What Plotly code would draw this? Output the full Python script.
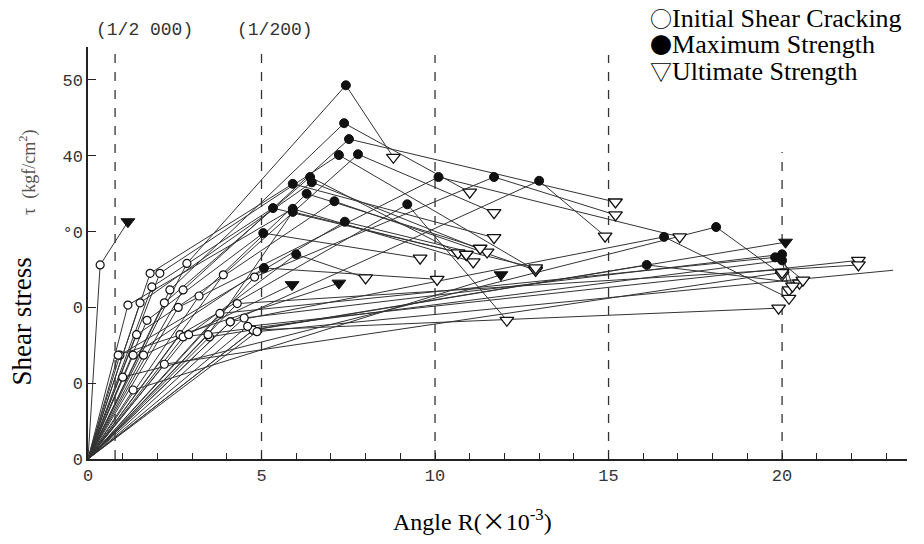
import plotly.graph_objects as go

# ---- data, x in 10^-3 rad, y in kgf/cm2 ----
crack_x = [2.85, 2.36, 2.74, 2.07, 3.9, 1.79, 2.2, 1.5, 1.84, 1.15, 1.7, 2.6, 4.8, 4.1,
           1.4, 2.65, 0.92, 1.3, 1.6, 0.87, 1.3, 0.35, 4.76, 3.5, 2.74, 1.0, 4.1, 2.9,
           4.76, 4.6, 4.87, 3.46, 4.5, 3.8, 4.3, 2.2, 3.2]
crack_y = [25.8, 22.3, 22.3, 24.5, 24.3, 24.5, 20.6, 20.6, 22.7, 20.3, 18.3, 20.0, 24.0, 18.1,
           16.4, 16.4, 13.7, 13.7, 13.7, 13.7, 9.1, 25.6, 17.0, 16.1, 16.1, 10.8, 18.1, 16.4,
           17.0, 17.5, 16.8, 16.4, 18.6, 19.2, 20.5, 12.5, 21.5]
peak_x = [7.43, 7.38, 7.52, 7.23, 7.78, 5.9, 6.4, 6.45, 5.33, 5.9, 5.05, 10.1, 11.7, 13.0,
          7.1, 9.2, 7.4, 5.07, 5.88, 7.23, 11.9, 1.15, 20.1, 16.1, 20.0, 18.1, 16.6, 6.0,
          None, None, None, 5.9, 20.0, 19.8, None, None, 6.3]
peak_y = [49.3, 44.3, 42.2, 40.1, 40.2, 36.3, 37.2, 36.5, 33.1, 33.0, 29.8, 37.2, 37.2, 36.7,
          34.0, 33.6, 31.3, 25.2, 23.0, 23.2, 24.3, 31.3, 28.6, 25.6, 26.2, 30.6, 29.3, 27.0,
          None, None, None, 32.6, 27.0, 26.6, None, None, 35.0]
ult_x = [8.8, 11.0, 15.2, 12.9, 11.7, 11.7, 10.66, 11.5, 10.9, 11.1, 9.57, 17.05, 15.2, 14.9,
         12.9, 12.07, 12.9, 10.06, None, None, None, None, None, 20.5, 20.2, 20.0, 20.2, 8.0,
         19.9, 22.2, 23.2, 10.9, 20.3, 20.6, 22.2, 20.0, 11.3]
ult_y = [39.8, 35.2, 33.9, 24.9, 32.5, 29.2, 27.2, 27.3, 27.0, 26.0, 26.5, 29.3, 32.2, 29.4,
         24.9, 18.3, 25.2, 23.7, None, None, None, None, None, 23.2, 22.3, 24.3, 21.2, 23.9,
         19.9, 26.2, 24.9, 27.0, 22.8, 23.6, 25.6, 24.6, 27.8]
ult_marked = [True] * 30 + [False] + [True] * 6

x_tick_vals = [0, 5, 10, 15, 20]
x_tick_text = ["0", "5", "10", "15", "20"]
y_tick_vals = [0, 10, 20, 30, 40, 50]
y_tick_text = ["0", "0", "0", "°0", "40", "50"]

guide_x = [0.78, 5, 10, 15, 20]
guide_top = [54.4, 54.6, 53.3, 53.3, 40.5]
drift_labels = ["(1/2 000)", "(1/200)"]
drift_label_x = [1.64, 5.4]
legend_symbols = ["○", "●", "▽"]
legend_labels = ["Initial Shear Cracking", "Maximum Strength", "Ultimate Strength"]

INK = "#111111"
LINE = "#333333"
SERIF = "Liberation Serif"
OLD = "Liberation Mono"

fig = go.Figure()

# specimen paths
for i in range(len(crack_x)):
    xs = [0, crack_x[i]]
    ys = [0, crack_y[i]]
    if peak_x[i] is not None:
        xs.append(peak_x[i]); ys.append(peak_y[i])
    if ult_x[i] is not None:
        xs.append(ult_x[i]); ys.append(ult_y[i])
    fig.add_trace(go.Scatter(x=xs, y=ys, mode="lines",
                             line=dict(color=LINE, width=1), hoverinfo="skip",
                             showlegend=False))

# ultimate (open down-triangles)
idx_u = [i for i in range(len(ult_x)) if ult_x[i] is not None and ult_marked[i]]
fig.add_trace(go.Scatter(x=[ult_x[i] for i in idx_u], y=[ult_y[i] for i in idx_u],
                         mode="markers", showlegend=False,
                         marker=dict(symbol="triangle-down", size=12, color="white",
                                     line=dict(color=INK, width=1.3))))
# maximum (filled circles); max = ultimate (filled down-triangles)
idx_c = [i for i in range(len(peak_x)) if peak_x[i] is not None and ult_x[i] is not None]
idx_t = [i for i in range(len(peak_x)) if peak_x[i] is not None and ult_x[i] is None]
fig.add_trace(go.Scatter(x=[peak_x[i] for i in idx_c], y=[peak_y[i] for i in idx_c],
                         mode="markers", showlegend=False,
                         marker=dict(symbol="circle", size=9, color=INK,
                                     line=dict(color=INK, width=1))))
fig.add_trace(go.Scatter(x=[peak_x[i] for i in idx_t], y=[peak_y[i] for i in idx_t],
                         mode="markers", showlegend=False,
                         marker=dict(symbol="triangle-down", size=12, color=INK,
                                     line=dict(color=INK, width=1))))
# initial shear cracking (open circles)
fig.add_trace(go.Scatter(x=crack_x, y=crack_y, mode="markers", showlegend=False,
                         marker=dict(symbol="circle", size=8, color="white",
                                     line=dict(color=INK, width=1.2))))

# dashed guide lines
for gx, gt in zip(guide_x, guide_top):
    fig.add_shape(type="line", x0=gx, x1=gx, y0=0, y1=gt, xref="x", yref="y",
                  line=dict(color="#333333", width=1.3, dash="dash"), layer="below")

fig.update_layout(
    width=924, height=544,
    margin=dict(l=88, r=17, t=47, b=85),
    paper_bgcolor="white", plot_bgcolor="white",
    font=dict(family=SERIF, color="#000000"),
    xaxis=dict(range=[0, 23.6], showgrid=False, zeroline=False, showline=True,
               linecolor="#222222", linewidth=1.5, ticks="inside", ticklen=6,
               tickcolor="#222222", tickvals=x_tick_vals, ticktext=x_tick_text,
               minor=dict(dtick=1, tick0=0, ticks="inside", ticklen=6,
                          tickcolor="#222222", showgrid=False),
               tickfont=dict(family=OLD, size=17, color="#333333")),
    yaxis=dict(range=[0, 54.35], showgrid=False, zeroline=False, showline=True,
               linecolor="#222222", linewidth=1.5, ticks="inside", ticklen=8,
               tickcolor="#222222", tickvals=y_tick_vals, ticktext=y_tick_text,
               tickfont=dict(family=OLD, size=17, color="#333333")),
)

# drift labels above the dashed lines
for t, lx in zip(drift_labels, drift_label_x):
    fig.add_annotation(x=lx, xref="x", y=1.041, yref="paper", yanchor="middle",
                       text=t, showarrow=False,
                       font=dict(family=OLD, size=18, color="#333333"))

# axis titles
fig.add_annotation(x=-0.081, xref="paper", y=0.333, yref="paper", text="Shear stress",
                   textangle=-90, showarrow=False, xanchor="center", yanchor="middle",
                   font=dict(family=SERIF, size=27, color="#000000"))
fig.add_annotation(x=-0.073, xref="paper", y=0.697, yref="paper",
                   text="τ  (kgf/cm<sup>2</sup>)",
                   textangle=-90, showarrow=False, xanchor="center", yanchor="middle",
                   font=dict(family=SERIF, size=18, color="#555555"))
fig.add_annotation(x=0.469, xref="paper", y=-0.148, yref="paper",
                   text="Angle R(<span style='font-family:Noto Sans CJK SC'>×</span>10<sup>-3</sup>)",
                   showarrow=False, xanchor="center", yanchor="middle",
                   font=dict(family=SERIF, size=24, color="#000000"))

# legend-like text block
legend_y = [1.0728, 1.0085, 0.9430]
for sym, lab, ly in zip(legend_symbols, legend_labels, legend_y):
    fig.add_annotation(x=0.684, xref="paper", y=ly, yref="paper",
                       xanchor="left", yanchor="middle",
                       text=(f"<span style='font-family:Noto Sans CJK SC;font-size:22px'>{sym}</span>"
                             f"{lab}"),
                       showarrow=False,
                       font=dict(family=SERIF, size=26, color="#000000"))

fig.write_html("out.html", config={"displayModeBar": False},
               post_script="document.body.style.margin='0';")
